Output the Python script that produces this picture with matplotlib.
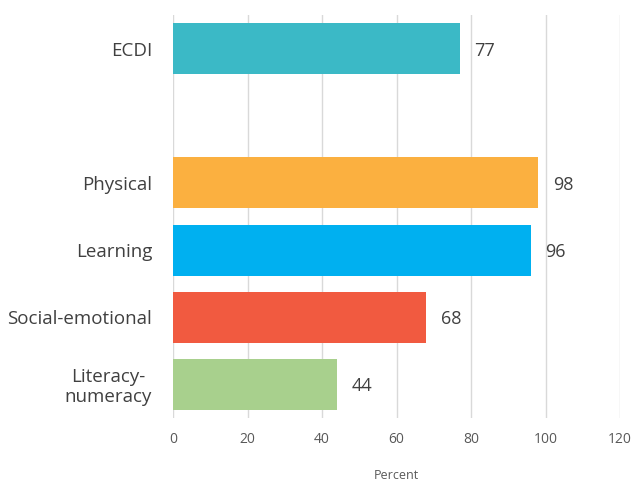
import matplotlib
matplotlib.use("Agg")
import matplotlib.pyplot as plt

categories = ["ECDI", "", "Physical", "Learning", "Social-emotional", "Literacy-\nnumeracy"]
values = [77, None, 98, 96, 68, 44]
colors = ["#3BB9C6", None, "#FBB040", "#00B0F0", "#F15A40", "#A8D08D"]
xticks = [0, 20, 40, 60, 80, 100, 120]

plt.rcParams["font.family"] = ["Open Sans", "DejaVu Sans"]

fig = plt.figure(figsize=(6.33, 4.84), dpi=100)
ax = fig.add_axes([0.2733, 0.1364, 0.7062, 0.8326])

for i, (v, c) in enumerate(zip(values, colors)):
    if v is None:
        continue
    ax.barh(i, v, height=0.76, color=c, zorder=2)
    ax.annotate(str(v), xy=(v, i), xytext=(10.5, -1.5), textcoords="offset points",
                va="center", ha="left", fontsize=13, color="#404040")

ax.set_ylim(5.5, -0.5)
ax.set_xlim(0, 120)
ax.set_xticks(xticks)
ax.set_xticklabels([str(t) for t in xticks], fontsize=10, color="#595959")
ax.set_yticks(range(len(categories)))
ax.set_yticklabels(categories, fontsize=13.5, color="#404040", multialignment="center",
                   linespacing=1.1)
ax.tick_params(axis="both", length=0)
ax.tick_params(axis="y", pad=15)
ax.tick_params(axis="x", pad=10)
ax.grid(axis="x", color="#D9D9D9", linewidth=1, zorder=0)
for s in ax.spines.values():
    s.set_visible(False)
ax.set_xlabel("Percent", fontsize=9, color="#595959", labelpad=16)

fig.savefig("out.png", dpi=100)
